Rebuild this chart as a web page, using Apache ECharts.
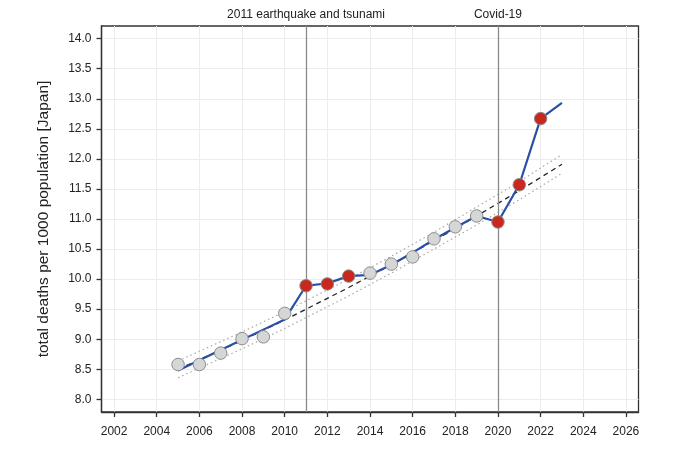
<!DOCTYPE html>
<html>
<head>
<meta charset="utf-8">
<script src="https://cdn.jsdelivr.net/npm/echarts@6/dist/echarts.min.js"></script>
<style>
  html, body { margin: 0; padding: 0; background: #fff; }
  #deathsChart { width: 680px; height: 458px; }
</style>
</head>
<body>
<div id="deathsChart"></div>
<script>
// years 2005..2023
const years = [2005, 2006, 2007, 2008, 2009, 2010, 2011, 2012, 2013, 2014,
  2015, 2016, 2017, 2018, 2019, 2020, 2021, 2022, 2023];

// observed rate (points), no point for 2023
const observed = [8.58, 8.58, 8.77, 9.01, 9.04, 9.43, 9.89, 9.92, 10.05, 10.10,
  10.25, 10.37, 10.67, 10.87, 11.05, 10.95, 11.57, 12.67, null];
const excessYear = [false, false, false, false, false, false, true, true, true, false,
  false, false, false, false, false, true, true, true, false];

// blue line
const lineValues = [8.48, 8.65, 8.82, 8.99, 9.16, 9.33, 9.89, 9.93, 10.05, 10.07,
  10.24, 10.44, 10.66, 10.86, 11.05, 10.95, 11.57, 12.67, 12.93];

// baseline trend and band
const trend = [8.50, 8.66, 8.82, 8.98, 9.15, 9.32, 9.50, 9.68, 9.86, 10.05,
  10.24, 10.44, 10.64, 10.84, 11.05, 11.26, 11.47, 11.69, 11.91];
const trendUpper = [8.64, 8.80, 8.96, 9.12, 9.29, 9.46, 9.64, 9.82, 10.00, 10.19,
  10.38, 10.58, 10.78, 10.99, 11.20, 11.41, 11.62, 11.85, 12.07];
const trendLower = [8.36, 8.52, 8.68, 8.84, 9.01, 9.18, 9.36, 9.54, 9.72, 9.91,
  10.10, 10.30, 10.50, 10.70, 10.90, 11.11, 11.32, 11.54, 11.76];

const events = [
  { year: 2011, label: '2011 earthquake and tsunami' },
  { year: 2020, label: 'Covid-19' }
];

const xTicks = [2002, 2004, 2006, 2008, 2010, 2012, 2014, 2016, 2018, 2020, 2022, 2024, 2026];
const yTicks = [8.0, 8.5, 9.0, 9.5, 10.0, 10.5, 11.0, 11.5, 12.0, 12.5, 13.0, 13.5, 14.0];

const pairs = (vals) => years.map((y, i) => [y, vals[i]]);

const chart = echarts.init(document.getElementById('deathsChart'));

const font = 'Liberation Sans, Arial, sans-serif';
const dark = '#333';

chart.setOption({
  animation: false,
  textStyle: { fontFamily: font },
  grid: {
    left: 101.5,
    right: 41.5,
    top: 26,
    bottom: 46,
    show: true,
    borderColor: dark,
    borderWidth: 1.3
  },
  xAxis: {
    type: 'value',
    min: 2001.41,
    max: 2026.59,
    axisLine: { show: true, lineStyle: { color: dark, width: 1.3 } },
    axisTick: { show: true, length: 5, customValues: xTicks, lineStyle: { color: dark, width: 1.3 } },
    axisLabel: {
      customValues: xTicks,
      margin: 14,
      color: '#222',
      fontSize: 12,
      fontFamily: font,
      formatter: (v) => String(v)
    },
    splitLine: { show: true, lineStyle: { color: '#ececec', width: 1 } }
  },
  yAxis: {
    type: 'value',
    min: 7.79,
    max: 14.21,
    name: 'total deaths per 1000 population [Japan]',
    nameLocation: 'middle',
    nameGap: 50,
    nameTextStyle: { color: '#222', fontSize: 15.5, fontFamily: font },
    axisLine: { show: true, lineStyle: { color: dark, width: 1.3 } },
    axisTick: { show: true, length: 5, customValues: yTicks, lineStyle: { color: dark, width: 1.3 } },
    axisLabel: {
      customValues: yTicks,
      margin: 10,
      color: '#222',
      fontSize: 12,
      fontFamily: font,
      formatter: (v) => v.toFixed(1)
    },
    splitLine: { show: true, lineStyle: { color: '#ececec', width: 1 } }
  },
  series: [
    {
      name: 'upper',
      type: 'line',
      data: pairs(trendUpper),
      showSymbol: false,
      lineStyle: { color: '#a8a8a8', width: 1.2, type: [1.5, 3] },
      z: 2
    },
    {
      name: 'lower',
      type: 'line',
      data: pairs(trendLower),
      showSymbol: false,
      lineStyle: { color: '#a8a8a8', width: 1.2, type: [1.5, 3] },
      z: 2
    },
    {
      name: 'trend',
      type: 'line',
      data: pairs(trend),
      showSymbol: false,
      lineStyle: { color: '#222', width: 1.3, type: [5, 4] },
      z: 3,
      markLine: {
        silent: true,
        symbol: ['none', 'none'],
        lineStyle: { color: '#8a8a8a', width: 1.3, type: 'solid' },
        label: {
          show: true,
          position: 'end',
          distance: 5,
          color: '#222',
          fontSize: 12,
          fontFamily: font,
          formatter: (p) => p.name
        },
        data: events.map((e) => ({ xAxis: e.year, name: e.label }))
      }
    },
    {
      name: 'deaths',
      type: 'line',
      data: pairs(lineValues),
      showSymbol: false,
      lineStyle: { color: '#2a4fa8', width: 2.2 },
      z: 4
    },
    {
      name: 'observed',
      type: 'scatter',
      data: years.map((y, i) => observed[i] == null ? null : [y, observed[i]]).filter(Boolean),
      symbol: 'circle',
      symbolSize: 12.5,
      itemStyle: {
        color: (p) => excessYear[years.indexOf(p.value[0])] ? '#c8281d' : '#d5d7d7',
        borderColor: '#8c8c8c',
        borderWidth: 1,
        opacity: 1
      },
      z: 5
    }
  ]
});

window.addEventListener('resize', () => {
  chart.resize();
});
</script>
</body>
</html>
